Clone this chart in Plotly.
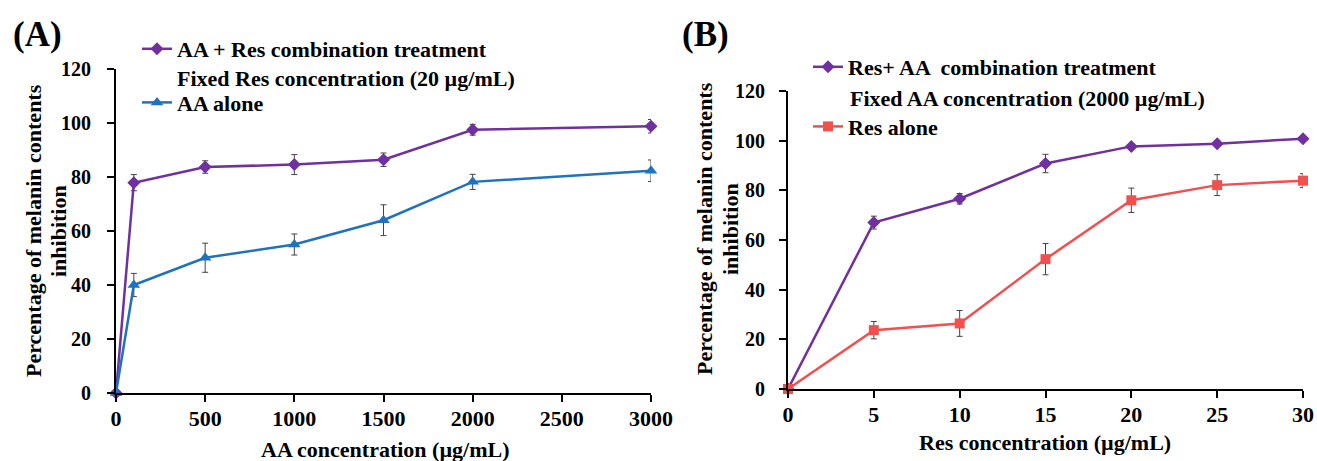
import plotly.graph_objects as go

# Panel A data
aa_conc = [0, 100, 500, 1000, 1500, 2000, 3000]
aa_combo = [0, 77.9, 83.7, 84.6, 86.4, 97.5, 98.8]
aa_combo_err = [0, 3.0, 2.3, 3.7, 2.5, 2.0, 2.5]
aa_alone = [0, 40.0, 50.1, 55.0, 64.0, 78.2, 82.3]
aa_alone_err = [0, 4.3, 5.4, 3.9, 5.7, 2.8, 4.0]

# Panel B data
res_conc = [0, 5, 10, 15, 20, 25, 30]
res_combo = [0, 67.0, 76.6, 90.8, 97.7, 98.8, 100.8]
res_combo_err = [0, 2.6, 2.1, 3.7, 1.0, 1.0, 0.6]
res_alone = [0, 23.7, 26.4, 52.3, 76.0, 82.1, 83.9]
res_alone_err = [0, 3.5, 5.2, 6.3, 4.9, 4.2, 2.8]

aa_xticks = [0, 500, 1000, 1500, 2000, 2500, 3000]
res_xticks = [0, 5, 10, 15, 20, 25, 30]
y_ticks = [0, 20, 40, 60, 80, 100, 120]

PURPLE = "#7030A0"
BLUE = "#1F72BD"
RED = "#F24F4F"
FONT = "Liberation Serif"
W, H = 1317, 461


def err(vals, color="#444"):
    return dict(type="data", array=vals, visible=True, color=color, thickness=1, width=3)


fig = go.Figure()
fig.add_trace(go.Scatter(
    x=aa_conc, y=aa_combo, error_y=err(aa_combo_err), mode="lines+markers",
    name="AA + Res combination treatment", legendgroup="a1",
    line=dict(color=PURPLE, width=2.5), marker=dict(symbol="diamond", size=10, color=PURPLE),
    cliponaxis=False, xaxis="x", yaxis="y", legend="legend"))
fig.add_trace(go.Scatter(
    x=aa_conc, y=aa_alone, error_y=err(aa_alone_err), mode="lines+markers",
    name="AA alone", legendgroup="a2",
    line=dict(color=BLUE, width=2.5), marker=dict(symbol="triangle-up", size=11, color=BLUE),
    cliponaxis=False, xaxis="x", yaxis="y", legend="legend"))
fig.add_trace(go.Scatter(
    x=res_conc, y=res_combo, error_y=err(res_combo_err), mode="lines+markers",
    name="Res+ AA  combination treatment", legendgroup="b1",
    line=dict(color=PURPLE, width=2.5), marker=dict(symbol="diamond", size=10, color=PURPLE),
    cliponaxis=False, xaxis="x2", yaxis="y2", legend="legend2"))
fig.add_trace(go.Scatter(
    x=res_conc, y=res_alone, error_y=err(res_alone_err), mode="lines+markers",
    name="Res alone", legendgroup="b2",
    line=dict(color=RED, width=2.5), marker=dict(symbol="square", size=10, color=RED),
    cliponaxis=False, xaxis="x2", yaxis="y2", legend="legend2"))


def px_x(p):
    return p / W


def px_y(p):
    return 1 - p / H


def bold(size):
    return dict(family=FONT, size=size, color="black", weight="bold")


axis_common = dict(showline=True, linecolor="black", linewidth=2, ticks="outside",
                   ticklen=7, tickwidth=2, tickcolor="black", showgrid=False,
                   zeroline=False, automargin=False)

annotations = []


def ann(text, x, y, size=22, angle=0, xanchor="center"):
    annotations.append(dict(text=text, x=px_x(x), y=px_y(y), xref="paper", yref="paper",
                            showarrow=False, textangle=angle, xanchor=xanchor, yanchor="middle",
                            font=bold(size)))


ann("(A)", 37, 35, size=35)
ann("(B)", 706, 35, size=35)
ann("AA concentration (µg/mL)", 385, 449)
ann("Res concentration (µg/mL)", 1045, 442)
ann("Percentage of melanin contents", 33, 231, angle=-90)
ann("inhibition", 58, 231, angle=-90)
ann("Percentage of melanin contents", 704, 229, angle=-90)
ann("inhibition", 730, 229, angle=-90)
ann("Fixed Res concentration (20 µg/mL)", 175, 78, xanchor="left")
ann("Fixed AA concentration (2000 µg/mL)", 848, 99, xanchor="left")

fig.update_layout(
    width=W, height=H, margin=dict(l=0, r=0, t=0, b=0),
    paper_bgcolor="white", plot_bgcolor="white",
    font=dict(family=FONT, color="black"),
    xaxis=dict(domain=[px_x(116), px_x(651)], range=[0, 3000], tickvals=aa_xticks,
               anchor="y", tickfont=bold(22), ticklabelstandoff=-2, **axis_common),
    yaxis=dict(domain=[px_y(393), px_y(69)], range=[0, 120], tickvals=y_ticks,
               anchor="x", tickfont=bold(20), ticklabelstandoff=12, **axis_common),
    xaxis2=dict(domain=[px_x(788), px_x(1303)], range=[0, 30], tickvals=res_xticks,
                anchor="y2", tickfont=bold(22), ticklabelstandoff=-2, **axis_common),
    yaxis2=dict(domain=[px_y(389), px_y(91)], range=[0, 120], tickvals=y_ticks,
                anchor="x2", tickfont=bold(20), ticklabelstandoff=10, **axis_common),
    legend=dict(x=px_x(137), y=px_y(28), xanchor="left", yanchor="top",
                bgcolor="rgba(0,0,0,0)", font=bold(22), traceorder="grouped",
                tracegroupgap=22, itemwidth=30),
    legend2=dict(x=px_x(808), y=px_y(46), xanchor="left", yanchor="top",
                 bgcolor="rgba(0,0,0,0)", font=bold(22), traceorder="grouped",
                 tracegroupgap=28, itemwidth=30),
    annotations=annotations,
)

fig.write_html("out.html", config={"displayModeBar": False},
               post_script="document.body.style.margin='0';")
